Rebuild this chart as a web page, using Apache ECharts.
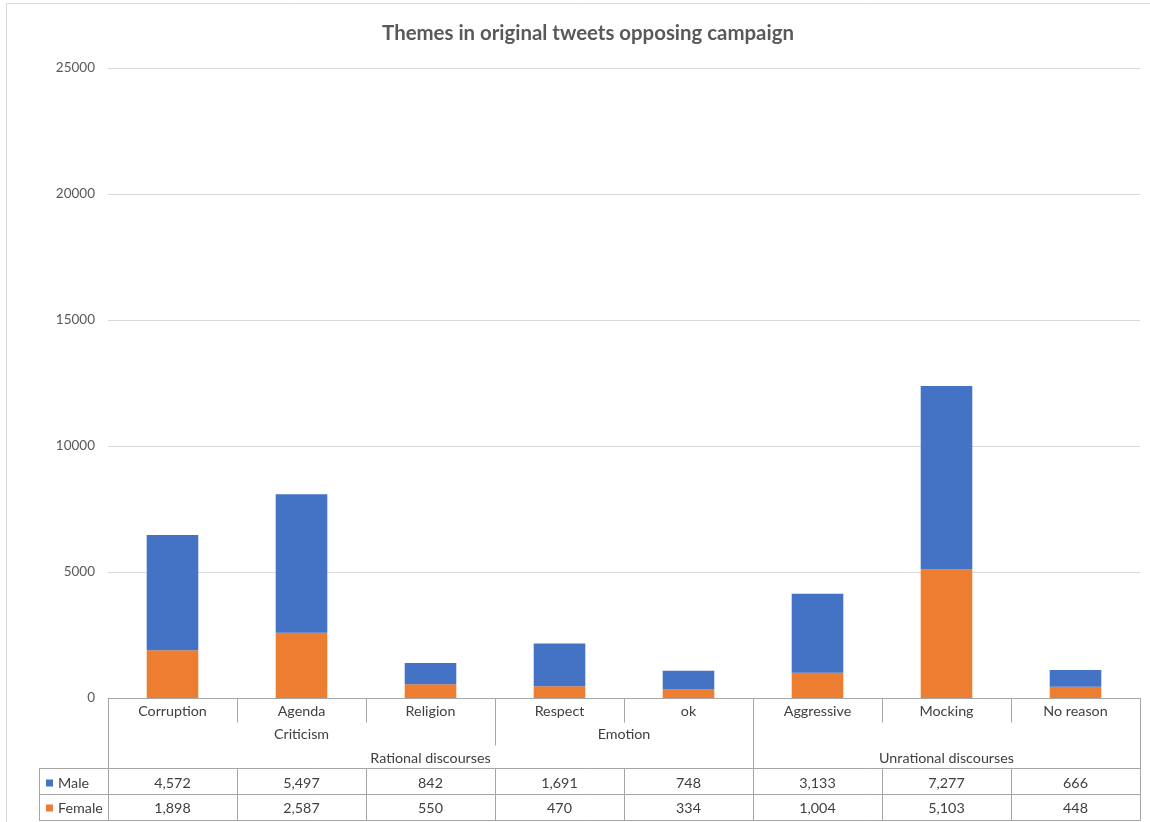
<!DOCTYPE html>
<html><head><meta charset="utf-8">
<script src="https://cdn.jsdelivr.net/npm/echarts@6/dist/echarts.min.js"></script>
<style>html,body{margin:0;padding:0;background:#fff}#c{width:1150px;height:822px}</style>
</head><body><div id="c"></div>
<script>
// ---- data ----
const chartTitle = 'Themes in original tweets opposing campaign';
const categories = ['Corruption','Agenda','Religion','Respect','ok','Aggressive','Mocking','No reason'];
const subGroupNames = ['Criticism','Emotion',''];
const subGroupSizes = [3,2,3];
const mainGroupNames = ['Rational discourses','Unrational discourses'];
const mainGroupSizes = [5,3];
const seriesNames = ['Male','Female'];
const maleValues = [4572,5497,842,1691,748,3133,7277,666];
const femaleValues = [1898,2587,550,470,334,1004,5103,448];
const yMin = 0, yMax = 25000, yStep = 5000;

// ---- style ----
const FONT = 'Lato';
const FS = 14.3;
const BLUE = '#4472c4', ORANGE = '#ed7d31';
const LINE = '#a6a6a6';
const TXT = '#404040';
const fmt = v => v.toLocaleString('en-US');

const chart = echarts.init(document.getElementById('c'), null, {renderer:'canvas'});
const rowH = [23.5, 23.5, 23, 26, 26];

const legendBase = {orient: 'vertical', icon: 'rect', padding: 0,
  itemWidth: 7, itemHeight: 7, selectedMode: false,
  textStyle: {fontFamily: FONT, fontSize: FS, color: TXT}};

chart.setOption({
  animation: false,
  backgroundColor: '#fff',
  textStyle: {fontFamily: FONT},
  title: {text: chartTitle, left: 583, textAlign: 'center', top: 18,
    textStyle: {fontFamily: FONT, fontSize: 20.4, fontWeight: 'bold', color: '#595959'}},
  legend: [
    Object.assign({}, legendBase, {data: [seriesNames[0]], left: 46, top: 776}),
    Object.assign({}, legendBase, {data: [seriesNames[1]], left: 46, top: 801})
  ],
  grid: {left: 108, right: 10, top: 68, bottom: 124},
  yAxis: {type: 'value', min: yMin, max: yMax, interval: yStep,
    axisLine: {show: false}, axisTick: {show: false},
    axisLabel: {color: '#595959', fontSize: 13.5, fontFamily: FONT, margin: 13, formatter: v => String(v)},
    splitLine: {lineStyle: {color: '#d9d9d9', width: 1}}},
  xAxis: [
    {type: 'category', data: categories, position: 'bottom',
      axisLine: {lineStyle: {color: LINE}}, axisTick: {show: false},
      axisLabel: {color: TXT, fontSize: FS, fontFamily: FONT, margin: 13, verticalAlign: 'middle', interval: 0}},
    {type: 'category', data: maleValues.map(fmt), position: 'bottom', offset: 85,
      axisLine: {show: false}, axisTick: {show: false},
      axisLabel: {color: TXT, fontSize: FS, fontFamily: FONT, margin: 0, verticalAlign: 'middle', interval: 0}},
    {type: 'category', data: femaleValues.map(fmt), position: 'bottom', offset: 110.5,
      axisLine: {show: false}, axisTick: {show: false},
      axisLabel: {color: TXT, fontSize: FS, fontFamily: FONT, margin: 0, verticalAlign: 'middle', interval: 0}}
  ],
  series: [
    {name: 'Female', type: 'bar', stack: 'g', data: femaleValues, barWidth: '40%', itemStyle: {color: ORANGE}},
    {name: 'Male', type: 'bar', stack: 'g', data: maleValues, barWidth: '40%', itemStyle: {color: BLUE}}
  ]
});

function drawTable(){
  const n = categories.length;
  const c0 = chart.convertToPixel({xAxisIndex:0}, 0);
  const c1 = chart.convertToPixel({xAxisIndex:0}, 1);
  const band = c1 - c0;
  const left = c0 - band/2;
  const bx = i => left + band*i;
  const y0 = chart.convertToPixel({yAxisIndex:0}, 0);
  const rows = [y0];
  rowH.forEach(h => rows.push(rows[rows.length-1] + h));
  const px = v => Math.round(v) + 0.5;
  const g = [];
  const line = (x1,y1,x2,y2) => g.push({type:'line', silent:true, z:10,
    shape:{x1:x1,y1:y1,x2:x2,y2:y2}, style:{stroke:LINE, lineWidth:1}});
  const tableLeft = 39;
  // outer chart border
  g.push({type:'rect', silent:true, shape:{x:6.5,y:3.5,width:1170,height:840},
    style:{fill:'none', stroke:'#d9d9d9', lineWidth:1}});
  // borders
  line(px(bx(0)), y0, px(bx(0)), px(rows[5]));
  line(px(bx(n)), y0, px(bx(n)), px(rows[5]));
  [3,4,5].forEach(r => line(tableLeft, px(rows[r]), px(bx(n)), px(rows[r])));
  line(px(tableLeft), px(rows[3]), px(tableLeft), px(rows[5]));
  // boundaries
  const subB = new Set(), mainB = new Set();
  let s = 0; subGroupSizes.forEach(k => { s += k; subB.add(s); });
  s = 0; mainGroupSizes.forEach(k => { s += k; mainB.add(s); });
  for (let i = 1; i < n; i++) {
    const x = px(bx(i));
    const yEnd = mainB.has(i) ? rows[5] : (subB.has(i) ? rows[2] : rows[1]);
    line(x, y0, x, px(yEnd));
    if (!mainB.has(i)) line(x, px(rows[3]), x, px(rows[5]));
  }
  // group labels
  const label = (text, x, y) => g.push({type:'text', silent:true, x:x, y:y,
    style:{text:text, fill:TXT, font:FS + 'px ' + FONT, align:'center', verticalAlign:'middle'}});
  s = 0;
  subGroupSizes.forEach((k, j) => { label(subGroupNames[j], (bx(s)+bx(s+k))/2, (rows[1]+rows[2])/2 + 1); s += k; });
  s = 0;
  mainGroupSizes.forEach((k, j) => { label(mainGroupNames[j], (bx(s)+bx(s+k))/2, (rows[2]+rows[3])/2 + 1.5); s += k; });
  chart.setOption({graphic: {elements: g}});
}
drawTable();
</script>
</body></html>
